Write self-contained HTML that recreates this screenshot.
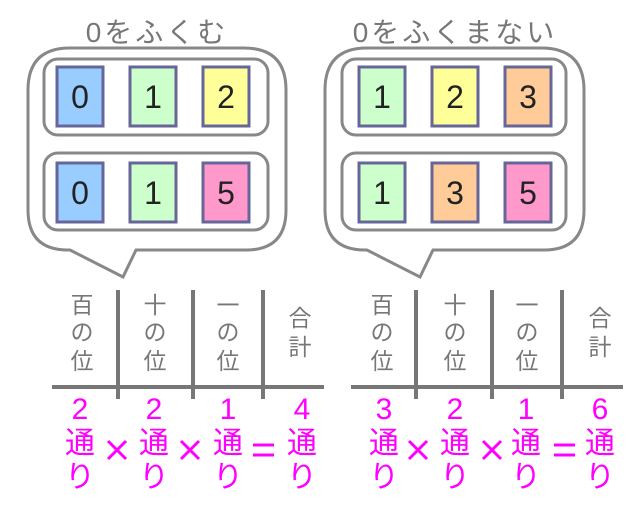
<!DOCTYPE html>
<html><head><meta charset="utf-8"><style>
html,body{margin:0;padding:0;background:#fff;}
svg text{font-family:"Liberation Sans","Noto Sans CJK JP",sans-serif;}
</style></head><body>
<svg width="642" height="516" viewBox="0 0 642 516" xmlns="http://www.w3.org/2000/svg">
<!-- LEFT -->
<g>
<text x="157" y="42" font-size="28" fill="#777" text-anchor="middle" letter-spacing="3">0をふくむ</text>
<path d="M70,48 H244 Q286,48 286,90 V210 Q286,250 246,250 H136 L123,277 L70,250 H68 Q28,250 28,210 V90 Q28,48 70,48 Z" fill="#fff" stroke="#888" stroke-width="3"/>
<rect x="44" y="59" width="224" height="76" rx="14" fill="#fff" stroke="#888" stroke-width="3"/>
<rect x="44" y="153" width="224" height="77" rx="14" fill="#fff" stroke="#888" stroke-width="3"/>
<g stroke="#666699" stroke-width="3">
<rect x="57" y="67" width="46" height="59" fill="#99ccff"/>
<rect x="130" y="67" width="46" height="59" fill="#ccffcc"/>
<rect x="203" y="67" width="46" height="59" fill="#ffff99"/>
<rect x="57" y="163" width="46" height="59" fill="#99ccff"/>
<rect x="130" y="163" width="46" height="59" fill="#ccffcc"/>
<rect x="203" y="163" width="46" height="59" fill="#ff99cc"/>
</g>
<g font-size="32" fill="#222" text-anchor="middle">
<text x="80" y="108">0</text><text x="153" y="108">1</text><text x="226" y="108">2</text>
<text x="80" y="204">0</text><text x="153" y="204">1</text><text x="226" y="204">5</text>
</g>
</g>
<!-- RIGHT -->
<g>
<text x="455" y="42" font-size="28" fill="#777" text-anchor="middle" letter-spacing="3">0をふくまない</text>
<path d="M367,48 H541 Q584,48 584,90 V210 Q584,250 544,250 H433 L420,277 L367,250 H365 Q325,250 325,210 V90 Q325,48 367,48 Z" fill="#fff" stroke="#888" stroke-width="3"/>
<rect x="342" y="59" width="224" height="76" rx="14" fill="#fff" stroke="#888" stroke-width="3"/>
<rect x="342" y="153" width="224" height="77" rx="14" fill="#fff" stroke="#888" stroke-width="3"/>
<g stroke="#666699" stroke-width="3">
<rect x="359" y="67" width="46" height="59" fill="#ccffcc"/>
<rect x="432" y="67" width="46" height="59" fill="#ffff99"/>
<rect x="505" y="67" width="46" height="59" fill="#ffcc99"/>
<rect x="359" y="163" width="46" height="59" fill="#ccffcc"/>
<rect x="432" y="163" width="46" height="59" fill="#ffcc99"/>
<rect x="505" y="163" width="46" height="59" fill="#ff99cc"/>
</g>
<g font-size="32" fill="#222" text-anchor="middle">
<text x="382" y="108">1</text><text x="455" y="108">2</text><text x="528" y="108">3</text>
<text x="382" y="204">1</text><text x="455" y="204">3</text><text x="528" y="204">5</text>
</g>
</g>
<!-- TABLES -->
<g stroke="#777" stroke-width="4">
<line x1="52" y1="387" x2="324" y2="387"/>
<line x1="118" y1="290" x2="118" y2="399"/>
<line x1="193" y1="290" x2="193" y2="399"/>
<line x1="263" y1="290" x2="263" y2="399"/>
<line x1="351" y1="387" x2="623" y2="387"/>
<line x1="416" y1="290" x2="416" y2="399"/>
<line x1="492" y1="290" x2="492" y2="399"/>
<line x1="562" y1="290" x2="562" y2="399"/>
</g>
<g font-size="23" fill="#777" text-anchor="middle">
<text x="82" y="313">百</text><text x="82" y="340">の</text><text x="82" y="369">位</text>
<text x="155" y="313">十</text><text x="155" y="340">の</text><text x="155" y="369">位</text>
<text x="228" y="313">一</text><text x="228" y="340">の</text><text x="228" y="369">位</text>
<text x="300" y="326">合</text><text x="300" y="355">計</text>
<text x="382" y="313">百</text><text x="382" y="340">の</text><text x="382" y="369">位</text>
<text x="455" y="313">十</text><text x="455" y="340">の</text><text x="455" y="369">位</text>
<text x="527" y="313">一</text><text x="527" y="340">の</text><text x="527" y="369">位</text>
<text x="600" y="326">合</text><text x="600" y="355">計</text>
</g>
<g font-size="30" fill="#ff00ff" text-anchor="middle">
<text x="80" y="419">2</text><text x="80" y="453">通</text><text x="80" y="487">り</text>
<text x="154" y="419">2</text><text x="154" y="453">通</text><text x="154" y="487">り</text>
<text x="228" y="419">1</text><text x="228" y="453">通</text><text x="228" y="487">り</text>
<text x="302" y="419">4</text><text x="302" y="453">通</text><text x="302" y="487">り</text>
<text x="384" y="419">3</text><text x="384" y="453">通</text><text x="384" y="487">り</text>
<text x="455" y="419">2</text><text x="455" y="453">通</text><text x="455" y="487">り</text>
<text x="526" y="419">1</text><text x="526" y="453">通</text><text x="526" y="487">り</text>
<text x="600" y="419">6</text><text x="600" y="453">通</text><text x="600" y="487">り</text>
</g>
<g stroke="#ff00ff" stroke-width="3">
<path d="M108,441 L126,459 M126,441 L108,459"/>
<path d="M181,441 L199,459 M199,441 L181,459"/>
<path d="M409,441 L427,459 M427,441 L409,459"/>
<path d="M483,441 L501,459 M501,441 L483,459"/>
<path d="M253,445 H274 M253,455 H274"/>
<path d="M554,445 H575 M554,455 H575"/>
</g>
</svg>
</body></html>
